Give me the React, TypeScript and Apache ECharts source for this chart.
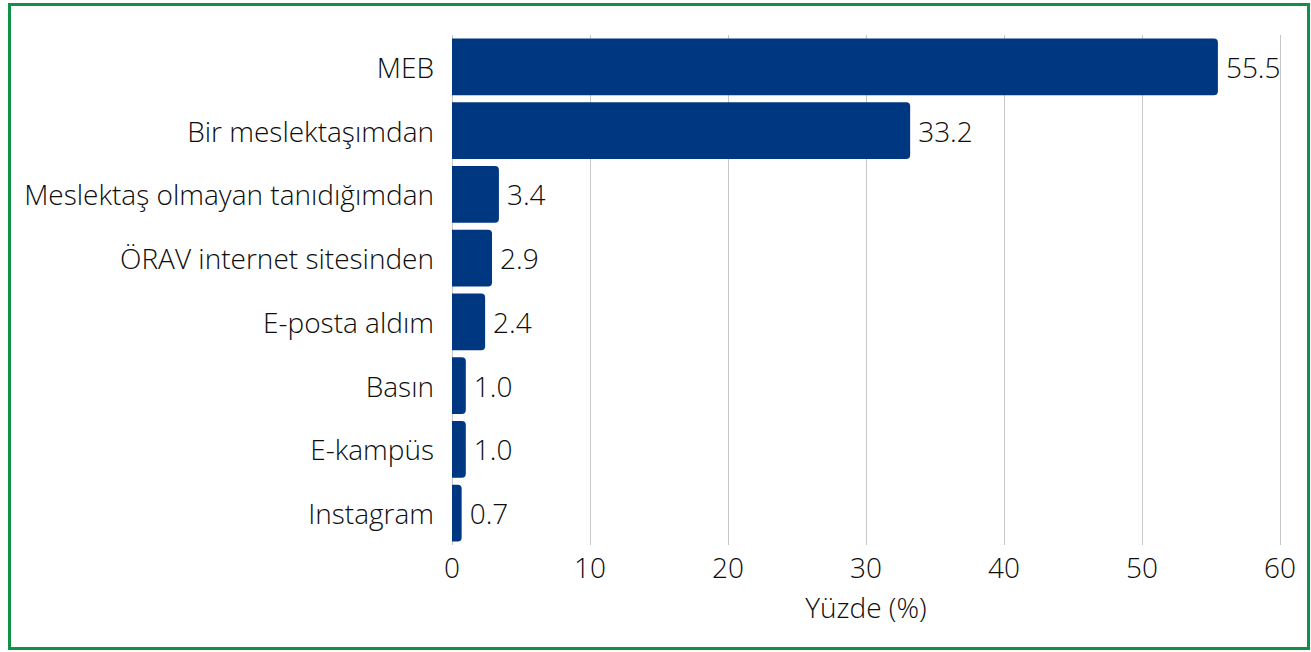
import React, { useEffect, useRef } from "react";
import * as echarts from "echarts";

const categories = [
  "MEB",
  "Bir meslektaşımdan",
  "Meslektaş olmayan tanıdığımdan",
  "ÖRAV internet sitesinden",
  "E-posta aldım",
  "Basın",
  "E-kampüs",
  "Instagram",
];
const values = [55.5, 33.2, 3.4, 2.9, 2.4, 1.0, 1.0, 0.7];
const axisName = "Yüzde (%)";

const FONT = "'Open Sans', 'Noto Sans', sans-serif";
const FS = 28;
const FW = 300;

export default function App() {
  const ref = useRef<HTMLDivElement>(null);
  useEffect(() => {
    if (!ref.current) return;
    const chart = echarts.init(ref.current, undefined, { renderer: "svg" });
    chart.setOption({
      animation: false,
      grid: { left: 452, right: 31, top: 35, height: 510 },
      xAxis: {
        type: "value",
        min: 0,
        max: 60,
        interval: 10,
        name: axisName,
        nameLocation: "middle",
        nameGap: 48,
        nameTextStyle: { color: "#0d0d0d", fontSize: FS, fontFamily: FONT, fontWeight: FW },
        axisLine: { show: false },
        axisTick: { show: false },
        axisLabel: { color: "#0d0d0d", fontSize: FS, fontFamily: FONT, fontWeight: FW, margin: 8 },
        splitLine: { show: true, lineStyle: { color: "#c8c8c8", width: 1 } },
      },
      yAxis: {
        type: "category",
        data: categories,
        inverse: true,
        axisLine: { show: false },
        axisTick: { show: false },
        axisLabel: { color: "#0d0d0d", fontSize: FS, fontFamily: FONT, fontWeight: FW, margin: 18 },
      },
      series: [
        {
          type: "bar",
          data: values,
          barCategoryGap: "11%",
          itemStyle: { color: "#003781", borderRadius: [0, 4, 4, 0] },
          label: {
            show: true,
            position: "right",
            distance: 8,
            color: "#0d0d0d",
            fontSize: FS,
            fontFamily: FONT,
            fontWeight: FW,
            formatter: (p: any) => Number(p.value).toFixed(1),
          },
        },
      ],
    });
    return () => chart.dispose();
  }, []);
  return (
    <div style={{ position: "fixed", left: 0, top: 0, width: 1311, height: 652, background: "#fff" }}>
      <div ref={ref} style={{ position: "absolute", left: 0, top: 0, width: 1311, height: 652 }} />
      <div
        style={{
          position: "absolute",
          left: 8,
          top: 3,
          width: 1302,
          height: 647,
          boxSizing: "border-box",
          border: "3px solid #0f9247",
          pointerEvents: "none",
        }}
      />
    </div>
  );
}
